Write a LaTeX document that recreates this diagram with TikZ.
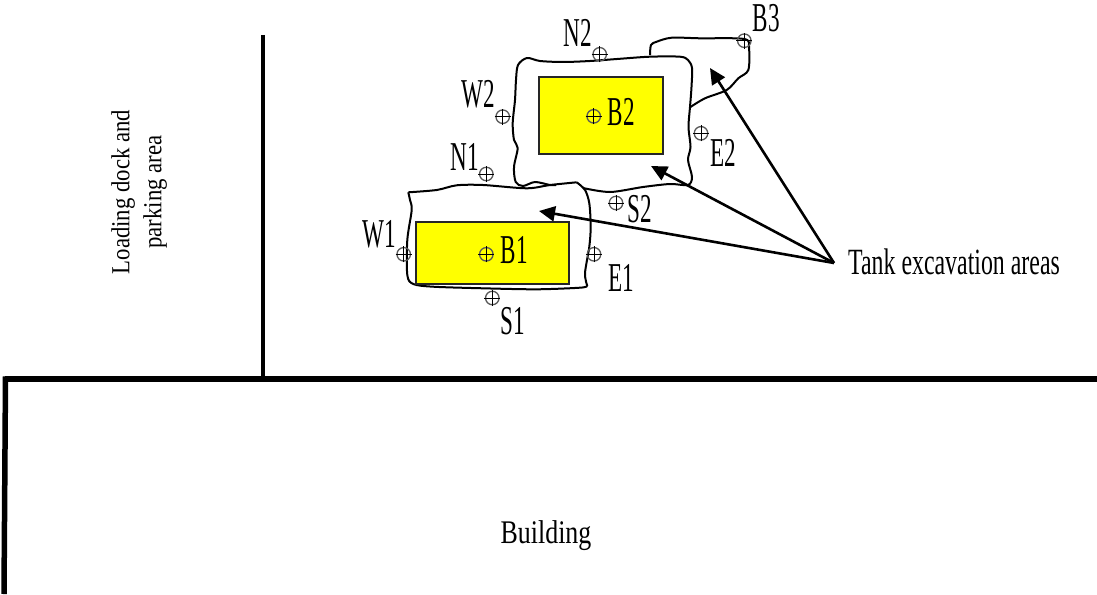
\documentclass[tikz,border=0pt]{standalone}
\usepackage{fontspec}
\setmainfont{Liberation Serif}
\usetikzlibrary{arrows.meta}
\definecolor{tankyellow}{RGB}{255,255,0}
\newcommand{\fsz}[1]{\fontsize{#1}{#1}\selectfont}
\newcommand{\pointlabel}[1]{\scalebox{.565}[1]{\fsz{41}#1}}
\tikzset{
  heavy/.style={line width=#1,black,line cap=butt},
  outline/.style={line width=2pt,black,smooth,tension=.5,line join=round},
  tank/.style={draw=black!85,fill=tankyellow,line width=2pt},
  target/.style={circle,draw=black!65,line width=1.3pt,minimum size=13.5pt,inner sep=0pt},
  crosshair/.style={line width=1pt,black},
  ptlab/.style={inner sep=0pt},
  pointer/.style={line width=2.6pt,black,-{Triangle[length=16pt,width=15pt]}},
}
\begin{document}
\begin{tikzpicture}[x=1pt,y=-1pt]
\useasboundingbox (0,0) rectangle (1097,594);
% heavy walls
\draw[heavy=3.8pt] (263,35) -- (263,379);
\draw[heavy=5.5pt] (5,379) -- (1097,379);
\draw[heavy=5.5pt] (5.5,376.5) -- (4,594);
% excavation outlines
\draw[outline] plot coordinates {(408.3,192.3) (436.7,190) (456.7,185.3) (483,185) (526.7,188.3) (550,185) (576.7,182.3)};
\draw[outline] plot coordinates {(576.7,182.3) (585,190) (589.3,203.3) (590.7,226.7) (589.3,246.7) (585,273.3) (587.3,286)};
\draw[outline] plot coordinates {(587.3,286) (580,287.7) (536.7,289.3) (483,288.3) (433,286.7) (413.3,284) (407.3,275) (407.3,240) (411.7,210) (410,200) (408.3,192.3)};
\draw[outline] plot coordinates {(583,188) (610,192) (643,187) (670,184) (688,185) (692,177) (688,160) (690.5,147) (688.5,127) (690,107) (691.5,87) (692,68) (688,60) (680,56.7) (650,56.7) (617,59) (590,61) (563,62) (540,61) (527,58) (518,65) (516,80) (515,100) (512.7,123) (514,140) (517.7,148) (514,167) (515.7,182) (523,186) (535,182) (550,185) (556,185)};
\draw[outline] plot coordinates {(650,55) (651,45) (656.7,41.7) (671.7,37.7) (700,38.3) (744.3,39) (749,48.3) (748.3,70) (738.3,78.3) (726.7,90) (705,98.3) (690,107.3)};
% tanks
\node[tank,minimum width=123.7pt,minimum height=77.3pt,inner sep=0pt,anchor=north west] (tankB) at (538.3,76) {};
\node[tank,minimum width=153pt,minimum height=61.3pt,inner sep=0pt,anchor=north west] (tankA) at (415.3,221.3) {};
% sample points
\foreach \n/\x/\y in {N2/599.7/54.3,B3/744.3/40.7,W2/502.7/116.7,B2/593.7/116.3,E2/701/133.3,N1/486.3/174,S2/616/203,W1/403.7/254.3,B1/486.3/254.3,E1/594/254.3,S1/492.3/298}{
  \node[target] (p\n) at (\x,\y) {};
  \draw[crosshair] ([xshift=-8pt]p\n.center) -- ([xshift=8pt]p\n.center);
  \draw[crosshair] ([yshift=-8pt]p\n.center) -- ([yshift=8pt]p\n.center);
}
% point labels
\foreach \n/\x/\y in {N2/577.5/33,B3/766.5/18,W2/478.5/94,B2/621.5/112,E2/723.5/153,N1/464.5/157,S2/639.5/209,W1/379.5/234,B1/514.5/250,E1/621.5/278,S1/512.5/321}{
  \node[ptlab] (l\n) at (\x,\y) {\pointlabel{\n}};
}
% other text
\node[inner sep=0pt] (tanktext) at (954,262) {\scalebox{.645}[1]{\fsz{37}Tank excavation areas}};
\node[inner sep=0pt] (building) at (546,535.5) {\scalebox{.785}[1]{\fsz{33}Building}};
\node[inner sep=0pt,rotate=90] (dock) at (139,192) {\scalebox{.875}[1]{\fsz{26}\def\arraystretch{1.23}\begin{tabular}{@{}c@{}}Loading dock and\\parking area\end{tabular}}};
% arrows
\coordinate (src) at (834,263);
\coordinate (tipC) at (710,68);
\coordinate (tipB) at (651,166);
\coordinate (tipA) at (539,211);
\draw[pointer] (src) -- (tipC);
\draw[pointer] (src) -- (tipB);
\draw[pointer] (src) -- (tipA);
\end{tikzpicture}
\end{document}
